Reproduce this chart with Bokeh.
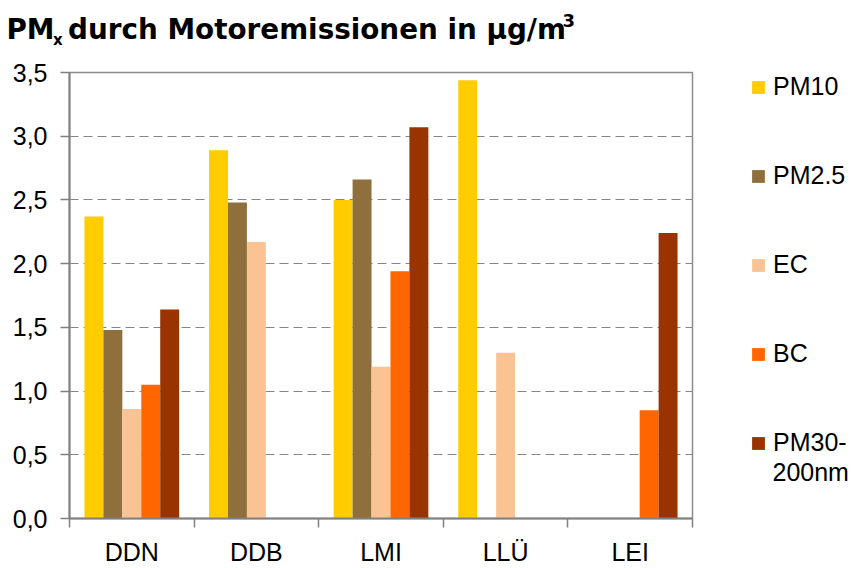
import numpy as np
from bokeh.plotting import figure
from bokeh.models import Range1d, FixedTicker, Label
from bokeh.layouts import column, row
from bokeh.embed import file_html
from bokeh.resources import INLINE

nan = float("nan")

# ---- data ----
locations = ["DDN", "DDB", "LMI", "LLÜ", "LEI"]
series_names = ["PM10", "PM2.5", "EC", "BC", "PM30-"]
last_name_line2 = "200nm"
pm10 = [2.37, 2.89, 2.50, 3.44, nan]
pm25 = [1.48, 2.48, 2.66, nan, nan]
ec = [0.86, 2.17, 1.19, 1.30, nan]
bc = [1.05, nan, 1.94, nan, 0.85]
pm30_200 = [1.64, nan, 3.07, nan, 2.24]
y_ticks = [0.0, 0.5, 1.0, 1.5, 2.0, 2.5, 3.0, 3.5]
y_tick_labels = ["0,0", "0,5", "1,0", "1,5", "2,0", "2,5", "3,0", "3,5"]

colors = ["#FFCC00", "#8F703C", "#FAC393", "#FF6600", "#993300"]
series_values = [pm10, pm25, ec, bc, pm30_200]

n = len(locations)
centers = [i + 0.5 for i in range(n)]
boundaries = [float(i) for i in range(n + 1)]
bar_w = 0.152


def bar_x(k):
    return [c + (k - 2) * bar_w for c in centers]


# ---------------- title figure ----------------
TW, TH = 853, 56
tp = figure(width=TW, height=TH, output_backend="svg", toolbar_location=None,
            x_range=Range1d(0, TW), y_range=Range1d(0, TH), title=None,
            x_axis_location=None, y_axis_location=None, min_border=0)
tp.grid.visible = False
tp.outline_line_color = None
tp.background_fill_color = "white"
tp.border_fill_color = "white"
tfont = "DejaVu Sans"
title_parts = [("PM", 6, 26.8, "27.8px"),
               ("x", 52.5, 16.2, "15px"),
               ("durch Motoremissionen in µg/m", 67.6, 26.8, "27.8px"),
               ("3", 562, 36.5, "18px")]
for txt, tx, ty, fs in title_parts:
    tp.add_layout(Label(x=tx, y=ty, text=txt, text_font=tfont, text_font_style="bold",
                        text_font_size=fs, text_baseline="middle", text_color="black"))

# ---------------- main chart ----------------
p = figure(width=750, height=512, output_backend="svg", toolbar_location=None,
           x_range=Range1d(0, n), y_range=Range1d(0, 3.5), title=None,
           min_border_left=69, min_border_right=58, min_border_top=16,
           min_border_bottom=50)
p.background_fill_color = "white"
p.border_fill_color = "white"
p.outline_line_color = "#8C8C8C"
p.outline_line_width = 1.5

for k, (vals, col) in enumerate(zip(series_values, colors)):
    p.vbar(x=bar_x(k), top=vals, bottom=0, width=bar_w, fill_color=col, line_color=None)

p.yaxis.ticker = FixedTicker(ticks=y_ticks)
p.yaxis.major_label_overrides = {float(v): l for v, l in zip(y_ticks, y_tick_labels)}
p.yaxis.major_tick_out = 9
p.yaxis.major_tick_in = 0
p.yaxis.minor_tick_out = 0
p.yaxis.minor_tick_in = 0
p.yaxis.major_label_standoff = 13
p.yaxis.major_label_text_font = "Liberation Sans"
p.yaxis.major_label_text_font_size = "25px"
p.yaxis.major_label_text_color = "black"
p.yaxis.axis_line_color = "#808080"
p.yaxis.axis_line_width = 2
p.yaxis.major_tick_line_color = "#808080"
p.yaxis.major_tick_line_width = 1.5

p.xaxis.ticker = FixedTicker(ticks=centers, minor_ticks=boundaries)
p.xaxis.major_label_overrides = {float(c): l for c, l in zip(centers, locations)}
p.xaxis.major_tick_out = 0
p.xaxis.major_tick_in = 0
p.xaxis.minor_tick_out = 9
p.xaxis.minor_tick_in = 0
p.xaxis.minor_tick_line_color = "#808080"
p.xaxis.minor_tick_line_width = 1.5
p.xaxis.major_label_standoff = 10
p.xaxis.major_label_text_font = "Liberation Sans"
p.xaxis.major_label_text_font_size = "25px"
p.xaxis.major_label_text_color = "black"
p.xaxis.axis_line_color = "#808080"
p.xaxis.axis_line_width = 2

p.xgrid.visible = False
p.ygrid.grid_line_color = "#868686"
p.ygrid.grid_line_dash = "9 5"
p.ygrid.grid_line_width = 1.2

# ---------------- legend figure (series drawn out of view, legend only) ----------------
lp = figure(width=103, height=512, output_backend="svg", toolbar_location=None,
            x_range=Range1d(-20, -19), y_range=Range1d(0, 3.5), title=None,
            x_axis_location=None, y_axis_location=None, min_border=0,
            min_border_top=12)
lp.grid.visible = False
lp.outline_line_color = None
lp.background_fill_color = "white"
lp.border_fill_color = "white"
for k, (name, vals, col) in enumerate(zip(series_names, series_values, colors)):
    lp.vbar(x=bar_x(k), top=vals, bottom=0, width=bar_w, fill_color=col,
            line_color=None, legend_label=name)
lg = lp.legend[0]
lg.location = (0, 61)
lg.padding = 0
lg.margin = 0
lg.border_line_color = None
lg.background_fill_alpha = 0
lg.glyph_width = 16
lg.glyph_height = 16
lg.label_standoff = 7
lg.spacing = 60
lg.label_text_font = "Liberation Sans"
lg.label_text_font_size = "25px"
lg.label_text_color = "black"
lp.add_layout(Label(x=22, y=46.7, x_units="screen", y_units="screen", text=last_name_line2,
                    text_font="Liberation Sans", text_font_size="25px",
                    text_baseline="middle", text_color="black"))

layout = column(tp, row(p, lp, spacing=0), spacing=0)
open("out.html", "w").write(file_html(layout, INLINE))
